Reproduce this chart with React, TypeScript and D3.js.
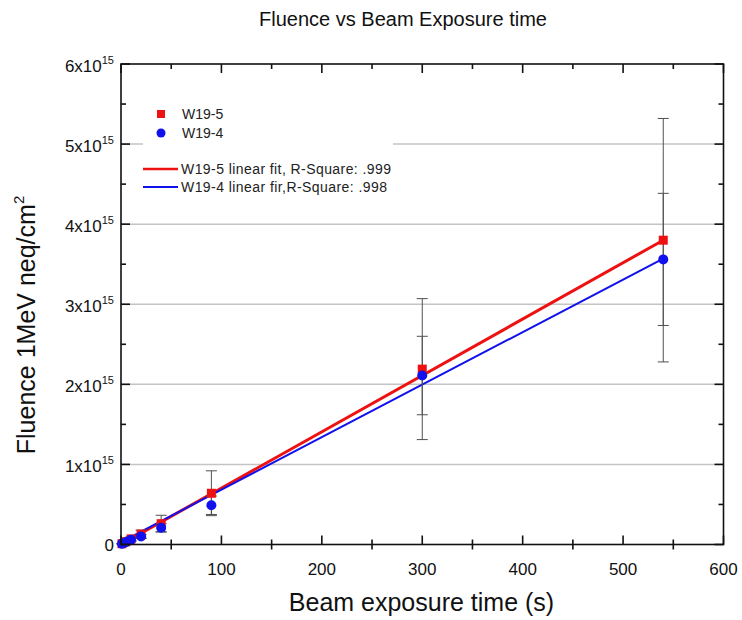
import React from "react";
import * as d3 from "d3";

// ---- data (fluence in units of 1e15 neq/cm^2) ----
const exposureTime = [1, 5, 10, 20, 40, 90, 300, 540];
const fluenceW195 = [0.01, 0.035, 0.07, 0.13, 0.26, 0.64, 2.19, 3.8];
const errorW195 = [0.004, 0.014, 0.028, 0.05, 0.105, 0.28, 0.88, 1.52];
const fluenceW194 = [0.008, 0.03, 0.06, 0.1, 0.21, 0.49, 2.11, 3.56];
const errorW194 = [0.002, 0.007, 0.014, 0.023, 0.05, 0.115, 0.49, 0.825];
const fitSlope = [0.007037, 0.006556]; // W19-5, W19-4
const fitIntercept = [0.0, 0.03];
const fitRange = [0, 540];
const xTicks = [0, 100, 200, 300, 400, 500, 600];
const xMinorTicks = [50, 150, 250, 350, 450, 550];
const yTicks = [0, 1, 2, 3, 4, 5, 6];
const yMinorTicks = [0.5, 1.5, 2.5, 3.5, 4.5, 5.5];
const gridValues = [1, 2, 3, 4, 5];
const legendScatter = ["W19-5", "W19-4"];
const legendFits = ["W19-5 linear fit, R-Square: .999", "W19-4 linear fir,R-Square: .998"];

const W = 742;
const H = 620;
const FONT = "'Liberation Sans', Arial, sans-serif";
const RED = "#ee1111";
const BLUE = "#1111ee";

export default function App() {
  const x = d3.scaleLinear().domain([0, 600]).range([121, 723.5]);
  const y = d3.scaleLinear().domain([0, 6]).range([544.5, 64]);
  const [x0, x1] = x.range();
  const [y0, y1] = y.range();

  const fits = [0, 1].map((i) =>
    d3
      .line<number>()
      .x((t) => x(t))
      .y((t) => y(fitSlope[i] * t + fitIntercept[i]))(fitRange)
  );

  const series = [
    { vals: fluenceW195, errs: errorW195 },
    { vals: fluenceW194, errs: errorW194 },
  ];

  const capHalf = 5.5;

  return (
    <svg
      width={W}
      height={H}
      style={{ position: "absolute", left: 0, top: 0, background: "#fff" }}
      fontFamily={FONT}
    >
      <rect x={0} y={0} width={W} height={H} fill="#fff" />
      {/* title */}
      <text x={403} y={26} fontSize={20} textAnchor="middle" fill="#111">
        Fluence vs Beam Exposure time
      </text>

      {/* grid */}
      {gridValues.map((v) => (
        <line key={v} x1={x0} x2={x1} y1={y(v)} y2={y(v)} stroke="#c4c4c4" strokeWidth={1.5} />
      ))}

      {/* legend */}
      <rect x={143} y={98} width={250} height={108} fill="#fff" />
      <rect x={157} y={110} width={8} height={8} fill={RED} />
      <circle cx={161} cy={133} r={4.5} fill={BLUE} />
      {legendScatter.map((s, i) => (
        <text key={s} x={182} y={119 + i * 19} fontSize={14} fill="#222">
          {s}
        </text>
      ))}
      {legendFits.map((s, i) => (
        <g key={s}>
          <line
            x1={143}
            x2={178}
            y1={169 + i * 18}
            y2={169 + i * 18}
            stroke={i === 0 ? RED : BLUE}
            strokeWidth={i === 0 ? 2.5 : 1.8}
          />
          <text x={181} y={174 + i * 18} fontSize={14} fill="#222" textLength={i === 0 ? 210 : 206}>
            {s}
          </text>
        </g>
      ))}

      {/* fit lines */}
      <path d={fits[0] ?? ""} stroke={RED} strokeWidth={3} fill="none" />
      <path d={fits[1] ?? ""} stroke={BLUE} strokeWidth={2} fill="none" />

      {/* error bars */}
      {series.map((s, si) =>
        exposureTime.map((t, i) => {
          const cx = x(t);
          const top = y(s.vals[i] + s.errs[i]);
          const bot = y(s.vals[i] - s.errs[i]);
          return (
            <g key={`e${si}-${i}`} stroke="#505050" strokeWidth={1}>
              <line x1={cx} x2={cx} y1={top} y2={bot} />
              <line x1={cx - capHalf} x2={cx + capHalf} y1={top} y2={top} />
              <line x1={cx - capHalf} x2={cx + capHalf} y1={bot} y2={bot} />
            </g>
          );
        })
      )}

      {/* markers */}
      {exposureTime.map((t, i) => (
        <rect key={`r${i}`} x={x(t) - 4.5} y={y(fluenceW195[i]) - 4.5} width={9} height={9} fill={RED} />
      ))}
      {exposureTime.map((t, i) => (
        <circle key={`b${i}`} cx={x(t)} cy={y(fluenceW194[i])} r={5} fill={BLUE} />
      ))}

      {/* frame */}
      <rect x={x0} y={y1} width={x1 - x0} height={y0 - y1} fill="none" stroke="#111" strokeWidth={1.6} />

      {/* ticks */}
      {xTicks.map((v) => (
        <g key={`xt${v}`} stroke="#111" strokeWidth={1.6}>
          <line x1={x(v)} x2={x(v)} y1={y0} y2={y0 - 9} />
          <line x1={x(v)} x2={x(v)} y1={y1} y2={y1 + 9} />
        </g>
      ))}
      {xMinorTicks.map((v) => (
        <g key={`xm${v}`} stroke="#111" strokeWidth={1.6}>
          <line x1={x(v)} x2={x(v)} y1={y0 + 5} y2={y0 - 5} />
          <line x1={x(v)} x2={x(v)} y1={y1} y2={y1 + 5} />
        </g>
      ))}
      {yTicks.map((v) => (
        <g key={`yt${v}`} stroke="#111" strokeWidth={1.6}>
          <line x1={x0} x2={x0 + 9} y1={y(v)} y2={y(v)} />
          <line x1={x1} x2={x1 - 9} y1={y(v)} y2={y(v)} />
        </g>
      ))}
      {yMinorTicks.map((v) => (
        <g key={`ym${v}`} stroke="#111" strokeWidth={1.6}>
          <line x1={x0} x2={x0 + 5} y1={y(v)} y2={y(v)} />
          <line x1={x1} x2={x1 - 5} y1={y(v)} y2={y(v)} />
        </g>
      ))}

      {/* tick labels */}
      {xTicks.map((v) => (
        <text key={`xl${v}`} x={x(v)} y={575} fontSize={17} textAnchor="middle" fill="#111">
          {v}
        </text>
      ))}
      {yTicks.map((v) =>
        v === 0 ? (
          <text key={`yl${v}`} x={114} y={y(v) + 6} fontSize={17} textAnchor="end" fill="#111">
            0
          </text>
        ) : (
          <text key={`yl${v}`} x={114} y={y(v) + 8} fontSize={17} textAnchor="end" fill="#111">
            {`${v}x10`}
            <tspan fontSize={11} dy={-8}>
              15
            </tspan>
          </text>
        )
      )}

      {/* axis titles */}
      <text x={421.5} y={611} fontSize={25} textAnchor="middle" fill="#111">
        Beam exposure time (s)
      </text>
      <text
        transform={`translate(35, 325) rotate(-90)`}
        fontSize={25}
        textAnchor="middle"
        fill="#111"
      >
        Fluence 1MeV neq/cm
        <tspan fontSize={15} dy={-11}>
          2
        </tspan>
      </text>
    </svg>
  );
}
